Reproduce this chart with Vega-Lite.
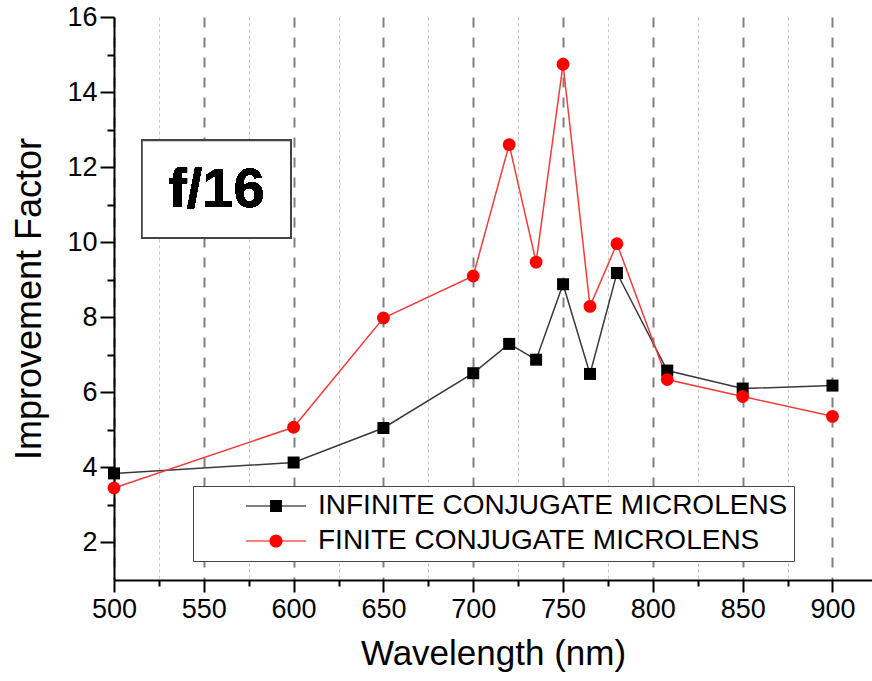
{
  "$schema": "https://vega.github.io/schema/vega-lite/v6.json",
  "autosize": "none",
  "width": 758,
  "height": 563,
  "padding": {"left": 114, "top": 17, "right": 0, "bottom": 101},
  "background": "white",
  "config": {
    "font": "Liberation Sans",
    "view": {"stroke": null},
    "axis": {"labelColor": "black", "titleColor": "black", "titleFontWeight": "normal", "domainColor": "black", "domainWidth": 2, "tickColor": "black", "tickWidth": 2}
  },
  "data": {
    "values": [
      {"wavelength": 500, "factor": 3.84, "series": "INFINITE CONJUGATE MICROLENS"},
      {"wavelength": 600, "factor": 4.13, "series": "INFINITE CONJUGATE MICROLENS"},
      {"wavelength": 650, "factor": 5.05, "series": "INFINITE CONJUGATE MICROLENS"},
      {"wavelength": 700, "factor": 6.51, "series": "INFINITE CONJUGATE MICROLENS"},
      {"wavelength": 720, "factor": 7.29, "series": "INFINITE CONJUGATE MICROLENS"},
      {"wavelength": 735, "factor": 6.87, "series": "INFINITE CONJUGATE MICROLENS"},
      {"wavelength": 750, "factor": 8.88, "series": "INFINITE CONJUGATE MICROLENS"},
      {"wavelength": 765, "factor": 6.49, "series": "INFINITE CONJUGATE MICROLENS"},
      {"wavelength": 780, "factor": 9.18, "series": "INFINITE CONJUGATE MICROLENS"},
      {"wavelength": 808, "factor": 6.58, "series": "INFINITE CONJUGATE MICROLENS"},
      {"wavelength": 850, "factor": 6.10, "series": "INFINITE CONJUGATE MICROLENS"},
      {"wavelength": 900, "factor": 6.18, "series": "INFINITE CONJUGATE MICROLENS"},
      {"wavelength": 500, "factor": 3.45, "series": "FINITE CONJUGATE MICROLENS"},
      {"wavelength": 600, "factor": 5.07, "series": "FINITE CONJUGATE MICROLENS"},
      {"wavelength": 650, "factor": 7.98, "series": "FINITE CONJUGATE MICROLENS"},
      {"wavelength": 700, "factor": 9.10, "series": "FINITE CONJUGATE MICROLENS"},
      {"wavelength": 720, "factor": 12.60, "series": "FINITE CONJUGATE MICROLENS"},
      {"wavelength": 735, "factor": 9.47, "series": "FINITE CONJUGATE MICROLENS"},
      {"wavelength": 750, "factor": 14.74, "series": "FINITE CONJUGATE MICROLENS"},
      {"wavelength": 765, "factor": 8.29, "series": "FINITE CONJUGATE MICROLENS"},
      {"wavelength": 780, "factor": 9.96, "series": "FINITE CONJUGATE MICROLENS"},
      {"wavelength": 808, "factor": 6.34, "series": "FINITE CONJUGATE MICROLENS"},
      {"wavelength": 850, "factor": 5.89, "series": "FINITE CONJUGATE MICROLENS"},
      {"wavelength": 900, "factor": 5.36, "series": "FINITE CONJUGATE MICROLENS"}
    ]
  },
  "encoding": {
    "x": {
      "field": "wavelength", "type": "quantitative",
      "scale": {"domain": [500, 922], "nice": false, "zero": false},
      "axis": {
        "title": "Wavelength (nm)", "titleFontSize": 35, "titlePadding": 14,
        "values": [500, 525, 550, 575, 600, 625, 650, 675, 700, 725, 750, 775, 800, 825, 850, 875, 900],
        "labelExpr": "datum.value % 50 === 0 ? datum.label : ''",
        "labelFontSize": 27, "labelPadding": 4, "labelFlush": false,
        "tickSize": {"condition": {"test": "datum.value % 50 === 0", "value": 12}, "value": 6},
        "grid": true,
        "gridColor": {"condition": {"test": "datum.value % 50 === 0", "value": "#808080"}, "value": "#c4c4c4"},
        "gridDash": {"condition": {"test": "datum.value % 50 === 0", "value": [10, 10]}, "value": [3, 3]},
        "gridWidth": {"condition": {"test": "datum.value % 50 === 0", "value": 2}, "value": 1}
      }
    },
    "y": {
      "field": "factor", "type": "quantitative",
      "scale": {"domain": [1, 16], "nice": false, "zero": false},
      "axis": {
        "title": "Improvement Factor", "titleFontSize": 36, "titlePadding": 18,
        "values": [2, 3, 4, 5, 6, 7, 8, 9, 10, 11, 12, 13, 14, 15, 16],
        "labelExpr": "datum.value % 2 === 0 ? datum.label : ''",
        "labelFontSize": 27, "labelPadding": 3, "labelFlush": false,
        "tickSize": {"condition": {"test": "datum.value % 2 === 0", "value": 14}, "value": 7},
        "grid": false
      }
    }
  },
  "layer": [
    {
      "transform": [{"filter": "datum.series === 'INFINITE CONJUGATE MICROLENS'"}],
      "mark": {"type": "line", "strokeWidth": 1.5, "color": "#3a3a3a"}
    },
    {
      "transform": [{"filter": "datum.series === 'FINITE CONJUGATE MICROLENS'"}],
      "mark": {"type": "line", "strokeWidth": 1.5, "color": "#f03c3c"}
    },
    {
      "transform": [{"filter": "datum.series === 'INFINITE CONJUGATE MICROLENS'"}],
      "mark": {"type": "point", "shape": "square", "filled": true, "color": "black", "size": 144, "opacity": 1}
    },
    {
      "transform": [{"filter": "datum.series === 'FINITE CONJUGATE MICROLENS'"}],
      "mark": {"type": "point", "shape": "circle", "filled": true, "color": "#ff0000", "size": 165, "opacity": 1}
    },
    {
      "transform": [{"filter": "datum.wavelength < 0"}],
      "mark": {"type": "point", "filled": true, "size": 144, "opacity": 1},
      "encoding": {
        "color": {
          "field": "series", "type": "nominal",
          "scale": {"domain": ["INFINITE CONJUGATE MICROLENS", "FINITE CONJUGATE MICROLENS"], "range": ["#000000", "#ff0000"]},
          "legend": {
            "title": null, "orient": "none", "legendX": 79, "legendY": 469,
            "strokeColor": "#444", "fillColor": "white", "padding": 6, "rowPadding": 7,
            "symbolSize": 144, "symbolStrokeWidth": 0, "symbolOffset": 63, "labelOffset": 28, "symbolOpacity": 1,
            "labelFontSize": 28, "labelColor": "black", "labelLimit": 600
          }
        },
        "shape": {
          "field": "series", "type": "nominal",
          "scale": {"domain": ["INFINITE CONJUGATE MICROLENS", "FINITE CONJUGATE MICROLENS"], "range": ["M-5,-0.1H5V0.1H-5Z M-1,-1H1V1H-1Z", "M-5,-0.1H5V0.1H-5Z M1.1,0A1.1,1.1 0 1,1 -1.1,0A1.1,1.1 0 1,1 1.1,0Z"]},
          "legend": {
            "title": null, "orient": "none", "legendX": 79, "legendY": 469,
            "strokeColor": "#444", "fillColor": "white", "padding": 6, "rowPadding": 7,
            "symbolSize": 144, "symbolStrokeWidth": 0, "symbolOffset": 63, "labelOffset": 28, "symbolOpacity": 1,
            "labelFontSize": 28, "labelColor": "black", "labelLimit": 600
          }
        }
      }
    },
    {
      "mark": {"type": "rect", "fill": "white", "stroke": "#444", "strokeWidth": 1.5},
      "encoding": {
        "x": {"datum": 515.6, "type": "quantitative"},
        "x2": {"datum": 598.4},
        "y": {"datum": 12.71, "type": "quantitative"},
        "y2": {"datum": 10.12}
      }
    },
    {
      "mark": {"type": "text", "text": "f/16", "fontSize": 56, "fontWeight": "bold", "color": "black", "align": "center", "baseline": "middle"},
      "encoding": {
        "x": {"datum": 557, "type": "quantitative"},
        "y": {"datum": 11.4, "type": "quantitative"}
      }
    }
  ]
}
